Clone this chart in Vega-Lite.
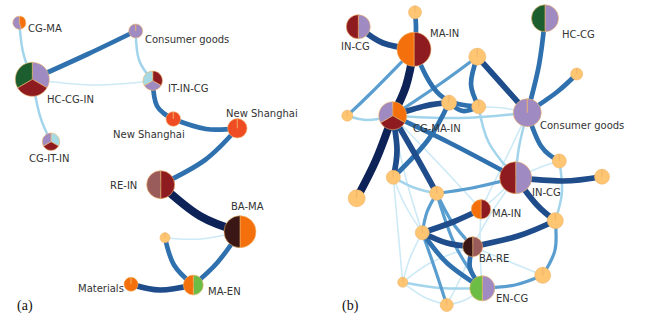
{
"$schema":"https://vega.github.io/schema/vega-lite/v6.json",
"width":645,"height":316,
"autosize":{"type":"fit","contains":"padding"},
"padding":0,
"background":"white",
"config":{"view":{"stroke":null}},
"datasets":{
"edges":[
{"e":"A1","o":0,"x":19.3,"y":22.7,"w":2},{"e":"A1","o":1,"x":23,"y":52,"w":2},{"e":"A1","o":2,"x":32.3,"y":79.3,"w":2},
{"e":"A3","o":0,"x":32.3,"y":79.3,"w":1},{"e":"A3","o":1,"x":92,"y":85,"w":1},{"e":"A3","o":2,"x":152.7,"y":80.7,"w":1},
{"e":"A4","o":0,"x":32.3,"y":79.3,"w":2},{"e":"A4","o":1,"x":40,"y":116,"w":2},{"e":"A4","o":2,"x":51,"y":141.7,"w":2},
{"e":"A5","o":0,"x":135.7,"y":31,"w":2},{"e":"A5","o":1,"x":139,"y":60,"w":2},{"e":"A5","o":2,"x":152.7,"y":80.7,"w":2},
{"e":"A10","o":0,"x":165,"y":237.7,"w":1},{"e":"A10","o":1,"x":200,"y":239,"w":1},{"e":"A10","o":2,"x":240,"y":231.7,"w":1},
{"e":"A2","o":0,"x":32.3,"y":79.3,"w":4},{"e":"A2","o":1,"x":88,"y":54,"w":4},{"e":"A2","o":2,"x":135.7,"y":31,"w":4},
{"e":"A6","o":0,"x":152.7,"y":80.7,"w":4},{"e":"A6","o":1,"x":157,"y":106,"w":4},{"e":"A6","o":2,"x":173.3,"y":119,"w":4},
{"e":"A7","o":0,"x":173.3,"y":119,"w":4},{"e":"A7","o":1,"x":206,"y":129,"w":4},{"e":"A7","o":2,"x":237.3,"y":128.3,"w":4},
{"e":"A8","o":0,"x":237.3,"y":128.3,"w":4},{"e":"A8","o":1,"x":205,"y":160,"w":4},{"e":"A8","o":2,"x":160.7,"y":184.7,"w":4},
{"e":"A11","o":0,"x":165,"y":237.7,"w":4},{"e":"A11","o":1,"x":174,"y":265,"w":4},{"e":"A11","o":2,"x":193.3,"y":285,"w":4},
{"e":"A12","o":0,"x":240,"y":231.7,"w":4},{"e":"A12","o":1,"x":217,"y":263,"w":4},{"e":"A12","o":2,"x":193.3,"y":285,"w":4},
{"e":"A13","o":0,"x":131,"y":284.3,"w":5},{"e":"A13","o":1,"x":160,"y":290,"w":5},{"e":"A13","o":2,"x":193.3,"y":285,"w":5},
{"e":"A9","o":0,"x":160.7,"y":184.7,"w":6},{"e":"A9","o":1,"x":200,"y":216,"w":6},{"e":"A9","o":2,"x":240,"y":231.7,"w":6},
{"e":"B15","o":0,"x":478.7,"y":106.7,"w":1},{"e":"B15","o":1,"x":503,"y":108,"w":1},{"e":"B15","o":2,"x":527.3,"y":112.7,"w":1},
{"e":"B21","o":0,"x":392.7,"y":115.7,"w":1},{"e":"B21","o":1,"x":440,"y":165,"w":1},{"e":"B21","o":2,"x":481,"y":209.3,"w":1},
{"e":"B22","o":0,"x":392.7,"y":115.7,"w":1},{"e":"B22","o":1,"x":405,"y":175,"w":1},{"e":"B22","o":2,"x":422.3,"y":232.7,"w":1},
{"e":"B27","o":0,"x":515.7,"y":177.7,"w":1},{"e":"B27","o":1,"x":541,"y":167,"w":1},{"e":"B27","o":2,"x":559.3,"y":161,"w":1},
{"e":"B31","o":0,"x":515.7,"y":177.7,"w":1},{"e":"B31","o":1,"x":498,"y":195,"w":1},{"e":"B31","o":2,"x":481,"y":209.3,"w":1},
{"e":"B32","o":0,"x":515.7,"y":177.7,"w":1},{"e":"B32","o":1,"x":490,"y":215,"w":1},{"e":"B32","o":2,"x":472.7,"y":246.7,"w":1},
{"e":"B40","o":0,"x":422.3,"y":232.7,"w":1},{"e":"B40","o":1,"x":410,"y":258,"w":1},{"e":"B40","o":2,"x":402.7,"y":282.3,"w":1},
{"e":"B43","o":0,"x":402.7,"y":282.3,"w":1},{"e":"B43","o":1,"x":432,"y":262,"w":1},{"e":"B43","o":2,"x":472.7,"y":246.7,"w":1},
{"e":"B44","o":0,"x":402.7,"y":282.3,"w":1},{"e":"B44","o":1,"x":424,"y":297,"w":1},{"e":"B44","o":2,"x":446.7,"y":305,"w":1},
{"e":"B46","o":0,"x":393.3,"y":177.3,"w":1},{"e":"B46","o":1,"x":405,"y":205,"w":1},{"e":"B46","o":2,"x":422.3,"y":232.7,"w":1},
{"e":"B47","o":0,"x":393.3,"y":177.3,"w":1},{"e":"B47","o":1,"x":398,"y":230,"w":1},{"e":"B47","o":2,"x":402.7,"y":282.3,"w":1},
{"e":"B50","o":0,"x":472.7,"y":246.7,"w":1},{"e":"B50","o":1,"x":510,"y":262,"w":1},{"e":"B50","o":2,"x":542.7,"y":275.3,"w":1},
{"e":"B51","o":0,"x":481,"y":209.3,"w":1},{"e":"B51","o":1,"x":480,"y":250,"w":1},{"e":"B51","o":2,"x":482.3,"y":288.3,"w":1},
{"e":"B52","o":0,"x":446.7,"y":305,"w":1},{"e":"B52","o":1,"x":462,"y":275,"w":1},{"e":"B52","o":2,"x":472.7,"y":246.7,"w":1},
{"e":"B53","o":0,"x":527.3,"y":112.7,"w":1},{"e":"B53","o":1,"x":510,"y":150,"w":1},{"e":"B53","o":2,"x":481,"y":209.3,"w":1},
{"e":"B54","o":0,"x":446.7,"y":305,"w":1},{"e":"B54","o":1,"x":465,"y":300,"w":1},{"e":"B54","o":2,"x":482.3,"y":288.3,"w":1},
{"e":"B11","o":0,"x":347.3,"y":115.7,"w":2},{"e":"B11","o":1,"x":368,"y":120,"w":2},{"e":"B11","o":2,"x":392.7,"y":115.7,"w":2},
{"e":"B13","o":0,"x":392.7,"y":115.7,"w":2},{"e":"B13","o":1,"x":460,"y":118,"w":2},{"e":"B13","o":2,"x":527.3,"y":112.7,"w":2},
{"e":"B23","o":0,"x":527.3,"y":112.7,"w":2},{"e":"B23","o":1,"x":519,"y":147,"w":2},{"e":"B23","o":2,"x":515.7,"y":177.7,"w":2},
{"e":"B25","o":0,"x":478.7,"y":106.7,"w":2},{"e":"B25","o":1,"x":489,"y":143,"w":2},{"e":"B25","o":2,"x":515.7,"y":177.7,"w":2},
{"e":"B29","o":0,"x":559.3,"y":161,"w":2},{"e":"B29","o":1,"x":562,"y":192,"w":2},{"e":"B29","o":2,"x":555.3,"y":220.7,"w":2},
{"e":"B42","o":0,"x":402.7,"y":282.3,"w":2},{"e":"B42","o":1,"x":440,"y":288,"w":2},{"e":"B42","o":2,"x":482.3,"y":288.3,"w":2},
{"e":"B45","o":0,"x":393.3,"y":177.3,"w":2},{"e":"B45","o":1,"x":415,"y":188,"w":2},{"e":"B45","o":2,"x":436.7,"y":193.3,"w":2},
{"e":"B4","o":0,"x":414,"y":49.3,"w":3},{"e":"B4","o":1,"x":372,"y":92,"w":3},{"e":"B4","o":2,"x":347.3,"y":115.7,"w":3},
{"e":"B6","o":0,"x":477.3,"y":56.7,"w":3},{"e":"B6","o":1,"x":440,"y":84,"w":3},{"e":"B6","o":2,"x":392.7,"y":115.7,"w":3},
{"e":"B30","o":0,"x":515.7,"y":177.7,"w":3},{"e":"B30","o":1,"x":472,"y":188,"w":3},{"e":"B30","o":2,"x":436.7,"y":193.3,"w":3},
{"e":"B38","o":0,"x":482.3,"y":288.3,"w":3},{"e":"B38","o":1,"x":515,"y":285,"w":3},{"e":"B38","o":2,"x":542.7,"y":275.3,"w":3},
{"e":"B39","o":0,"x":542.7,"y":275.3,"w":3},{"e":"B39","o":1,"x":555,"y":250,"w":3},{"e":"B39","o":2,"x":555.3,"y":220.7,"w":3},
{"e":"B41","o":0,"x":422.3,"y":232.7,"w":3},{"e":"B41","o":1,"x":436,"y":272,"w":3},{"e":"B41","o":2,"x":446.7,"y":305,"w":3},
{"e":"B48","o":0,"x":436.7,"y":193.3,"w":3},{"e":"B48","o":1,"x":452,"y":222,"w":3},{"e":"B48","o":2,"x":472.7,"y":246.7,"w":3},
{"e":"B49","o":0,"x":436.7,"y":193.3,"w":3},{"e":"B49","o":1,"x":455,"y":245,"w":3},{"e":"B49","o":2,"x":482.3,"y":288.3,"w":3},
{"e":"B55","o":0,"x":436.7,"y":193.3,"w":3},{"e":"B55","o":1,"x":427,"y":212,"w":3},{"e":"B55","o":2,"x":422.3,"y":232.7,"w":3},
{"e":"B2","o":0,"x":415,"y":12.3,"w":4},{"e":"B2","o":1,"x":416,"y":30,"w":4},{"e":"B2","o":2,"x":414,"y":49.3,"w":4},
{"e":"B5","o":0,"x":414,"y":49.3,"w":4},{"e":"B5","o":1,"x":440,"y":95,"w":4},{"e":"B5","o":2,"x":478.7,"y":106.7,"w":4},
{"e":"B7","o":0,"x":477.3,"y":56.7,"w":4},{"e":"B7","o":1,"x":471,"y":84,"w":4},{"e":"B7","o":2,"x":478.7,"y":106.7,"w":4},
{"e":"B9","o":0,"x":545,"y":18.3,"w":4},{"e":"B9","o":1,"x":539,"y":65,"w":4},{"e":"B9","o":2,"x":527.3,"y":112.7,"w":4},
{"e":"B10","o":0,"x":576.7,"y":74,"w":4},{"e":"B10","o":1,"x":557,"y":92,"w":4},{"e":"B10","o":2,"x":527.3,"y":112.7,"w":4},
{"e":"B14","o":0,"x":449,"y":102.7,"w":4},{"e":"B14","o":1,"x":463,"y":111,"w":4},{"e":"B14","o":2,"x":478.7,"y":106.7,"w":4},
{"e":"B16","o":0,"x":449,"y":102.7,"w":4},{"e":"B16","o":1,"x":428,"y":140,"w":4},{"e":"B16","o":2,"x":393.3,"y":177.3,"w":4},
{"e":"B20","o":0,"x":392.7,"y":115.7,"w":4},{"e":"B20","o":1,"x":450,"y":143,"w":4},{"e":"B20","o":2,"x":515.7,"y":177.7,"w":4},
{"e":"B24","o":0,"x":527.3,"y":112.7,"w":4},{"e":"B24","o":1,"x":541,"y":146,"w":4},{"e":"B24","o":2,"x":559.3,"y":161,"w":4},
{"e":"B36","o":0,"x":472.7,"y":246.7,"w":4},{"e":"B36","o":1,"x":470,"y":268,"w":4},{"e":"B36","o":2,"x":482.3,"y":288.3,"w":4},
{"e":"B37","o":0,"x":422.3,"y":232.7,"w":4},{"e":"B37","o":1,"x":447,"y":263,"w":4},{"e":"B37","o":2,"x":482.3,"y":288.3,"w":4},
{"e":"B1","o":0,"x":358.3,"y":26.7,"w":5},{"e":"B1","o":1,"x":383,"y":43,"w":5},{"e":"B1","o":2,"x":414,"y":49.3,"w":5},
{"e":"B8","o":0,"x":477.3,"y":56.7,"w":5},{"e":"B8","o":1,"x":500,"y":82,"w":5},{"e":"B8","o":2,"x":527.3,"y":112.7,"w":5},
{"e":"B12","o":0,"x":392.7,"y":115.7,"w":5},{"e":"B12","o":1,"x":425,"y":106,"w":5},{"e":"B12","o":2,"x":449,"y":102.7,"w":5},
{"e":"B17","o":0,"x":392.7,"y":115.7,"w":5},{"e":"B17","o":1,"x":397,"y":150,"w":5},{"e":"B17","o":2,"x":393.3,"y":177.3,"w":5},
{"e":"B19","o":0,"x":392.7,"y":115.7,"w":5},{"e":"B19","o":1,"x":416,"y":156,"w":5},{"e":"B19","o":2,"x":436.7,"y":193.3,"w":5},
{"e":"B26","o":0,"x":515.7,"y":177.7,"w":5},{"e":"B26","o":1,"x":563,"y":181,"w":5},{"e":"B26","o":2,"x":602,"y":176.7,"w":5},
{"e":"B28","o":0,"x":515.7,"y":177.7,"w":5},{"e":"B28","o":1,"x":537,"y":205,"w":5},{"e":"B28","o":2,"x":555.3,"y":220.7,"w":5},
{"e":"B33","o":0,"x":481,"y":209.3,"w":5},{"e":"B33","o":1,"x":453,"y":222,"w":5},{"e":"B33","o":2,"x":422.3,"y":232.7,"w":5},
{"e":"B34","o":0,"x":422.3,"y":232.7,"w":5},{"e":"B34","o":1,"x":447,"y":243,"w":5},{"e":"B34","o":2,"x":472.7,"y":246.7,"w":5},
{"e":"B35","o":0,"x":472.7,"y":246.7,"w":5},{"e":"B35","o":1,"x":518,"y":236,"w":5},{"e":"B35","o":2,"x":555.3,"y":220.7,"w":5},
{"e":"B3","o":0,"x":414,"y":49.3,"w":6},{"e":"B3","o":1,"x":406,"y":86,"w":6},{"e":"B3","o":2,"x":392.7,"y":115.7,"w":6},
{"e":"B18","o":0,"x":392.7,"y":115.7,"w":6},{"e":"B18","o":1,"x":376,"y":160,"w":6},{"e":"B18","o":2,"x":356.7,"y":198.3,"w":6}
],
"nodes":[
{"n":"a1","x":19.3,"y":22.7,"s":6.5,"c":"MA","k":1,"v":45},{"n":"a1","x":19.3,"y":22.7,"s":6.5,"c":"CG","k":2,"v":55},
{"n":"a2","x":135.7,"y":31,"s":7,"c":"CG","k":1,"v":1},
{"n":"a3","x":32.3,"y":79.3,"s":17,"c":"CG","k":1,"v":1},{"n":"a3","x":32.3,"y":79.3,"s":17,"c":"IN","k":2,"v":1},{"n":"a3","x":32.3,"y":79.3,"s":17,"c":"HC","k":3,"v":1},
{"n":"a4","x":152.7,"y":80.7,"s":9.7,"c":"IN","k":1,"v":1},{"n":"a4","x":152.7,"y":80.7,"s":9.7,"c":"CG","k":2,"v":1},{"n":"a4","x":152.7,"y":80.7,"s":9.7,"c":"IT","k":3,"v":1},
{"n":"a5","x":51,"y":141.7,"s":8.7,"c":"IT","k":1,"v":1},{"n":"a5","x":51,"y":141.7,"s":8.7,"c":"IN","k":2,"v":1},{"n":"a5","x":51,"y":141.7,"s":8.7,"c":"CG","k":3,"v":1},
{"n":"a6","x":173.3,"y":119,"s":7.3,"c":"NS","k":1,"v":1},
{"n":"a7","x":237.3,"y":128.3,"s":9.7,"c":"NS","k":1,"v":1},
{"n":"a8","x":160.7,"y":184.7,"s":14,"c":"IN","k":1,"v":1},{"n":"a8","x":160.7,"y":184.7,"s":14,"c":"RE","k":2,"v":1},
{"n":"a9","x":240,"y":231.7,"s":16,"c":"MA","k":1,"v":1},{"n":"a9","x":240,"y":231.7,"s":16,"c":"BA","k":2,"v":1},
{"n":"a10","x":165,"y":237.7,"s":5,"c":"Y","k":1,"v":1},
{"n":"a11","x":131,"y":284.3,"s":7,"c":"MA","k":1,"v":1},
{"n":"a12","x":193.3,"y":285,"s":10,"c":"EN","k":1,"v":1},{"n":"a12","x":193.3,"y":285,"s":10,"c":"MA","k":2,"v":1},
{"n":"b1","x":358.3,"y":26.7,"s":12,"c":"CG","k":1,"v":1},{"n":"b1","x":358.3,"y":26.7,"s":12,"c":"IN","k":2,"v":1},
{"n":"b2","x":415,"y":12.3,"s":6.5,"c":"Y","k":1,"v":1},
{"n":"b3","x":414,"y":49.3,"s":17,"c":"IN","k":1,"v":1},{"n":"b3","x":414,"y":49.3,"s":17,"c":"MA","k":2,"v":1},
{"n":"b4","x":545,"y":18.3,"s":13.5,"c":"CG","k":1,"v":1},{"n":"b4","x":545,"y":18.3,"s":13.5,"c":"HC","k":2,"v":1},
{"n":"b5","x":477.3,"y":56.7,"s":8.5,"c":"Y","k":1,"v":1},
{"n":"b6","x":576.7,"y":74,"s":6,"c":"Y","k":1,"v":1},
{"n":"b7","x":347.3,"y":115.7,"s":5.5,"c":"Y","k":1,"v":1},
{"n":"b8","x":392.7,"y":115.7,"s":14,"c":"MA","k":1,"v":1},{"n":"b8","x":392.7,"y":115.7,"s":14,"c":"IN","k":2,"v":1},{"n":"b8","x":392.7,"y":115.7,"s":14,"c":"CG","k":3,"v":1},
{"n":"b9","x":449,"y":102.7,"s":7.5,"c":"Y","k":1,"v":1},
{"n":"b10","x":478.7,"y":106.7,"s":7,"c":"Y","k":1,"v":1},
{"n":"b11","x":527.3,"y":112.7,"s":14,"c":"CG","k":1,"v":1},
{"n":"b12","x":559.3,"y":161,"s":7,"c":"Y","k":1,"v":1},
{"n":"b13","x":515.7,"y":177.7,"s":16,"c":"CG","k":1,"v":1},{"n":"b13","x":515.7,"y":177.7,"s":16,"c":"IN","k":2,"v":1},
{"n":"b14","x":602,"y":176.7,"s":7.5,"c":"Y","k":1,"v":1},
{"n":"b15","x":393.3,"y":177.3,"s":7,"c":"Y","k":1,"v":1},
{"n":"b16","x":356.7,"y":198.3,"s":8.5,"c":"Y","k":1,"v":1},
{"n":"b17","x":436.7,"y":193.3,"s":7,"c":"Y","k":1,"v":1},
{"n":"b18","x":481,"y":209.3,"s":9.7,"c":"IN","k":1,"v":1},{"n":"b18","x":481,"y":209.3,"s":9.7,"c":"MA","k":2,"v":1},
{"n":"b19","x":555.3,"y":220.7,"s":8,"c":"Y","k":1,"v":1},
{"n":"b20","x":422.3,"y":232.7,"s":7,"c":"Y","k":1,"v":1},
{"n":"b21","x":472.7,"y":246.7,"s":10,"c":"RE","k":1,"v":1},{"n":"b21","x":472.7,"y":246.7,"s":10,"c":"BA","k":2,"v":1},
{"n":"b22","x":542.7,"y":275.3,"s":8,"c":"Y","k":1,"v":1},
{"n":"b23","x":402.7,"y":282.3,"s":5,"c":"Y","k":1,"v":1},
{"n":"b24","x":482.3,"y":288.3,"s":12.5,"c":"CG","k":1,"v":1},{"n":"b24","x":482.3,"y":288.3,"s":12.5,"c":"EN","k":2,"v":1},
{"n":"b25","x":446.7,"y":305,"s":6.5,"c":"Y","k":1,"v":1}
],
"labels":[
{"t":"CG-MA","x":28,"y":29},
{"t":"Consumer goods","x":145,"y":39.5},
{"t":"HC-CG-IN","x":47,"y":100},
{"t":"IT-IN-CG","x":168,"y":89},
{"t":"CG-IT-IN","x":29,"y":158.5},
{"t":"New Shanghai","x":113,"y":134.5},
{"t":"New Shanghai","x":226,"y":113.5},
{"t":"RE-IN","x":110,"y":186},
{"t":"BA-MA","x":231,"y":207},
{"t":"Materials","x":78,"y":289},
{"t":"MA-EN","x":208,"y":292},
{"t":"IN-CG","x":341,"y":47},
{"t":"MA-IN","x":430,"y":33.5},
{"t":"HC-CG","x":562,"y":34.5},
{"t":"CG-MA-IN","x":413,"y":129},
{"t":"Consumer goods","x":540,"y":126},
{"t":"IN-CG","x":532,"y":193},
{"t":"MA-IN","x":492,"y":214},
{"t":"BA-RE","x":479,"y":259},
{"t":"EN-CG","x":496,"y":299}
],
"panels":[{"t":"(a)","x":17,"y":306},{"t":"(b)","x":342,"y":306}]
},
"encoding":{
"x":{"field":"x","type":"quantitative","scale":{"domain":[0,645],"nice":false,"zero":false},"axis":null},
"y":{"field":"y","type":"quantitative","scale":{"domain":[0,316],"nice":false,"zero":false,"reverse":true},"axis":null}
},
"layer":[
{"data":{"name":"edges"},
 "mark":{"type":"line","interpolate":"natural","strokeCap":"round","strokeJoin":"round"},
 "encoding":{
  "detail":{"field":"e","type":"nominal"},
  "order":{"field":"o","type":"quantitative"},
  "stroke":{"field":"w","type":"quantitative","legend":null,"scale":{"type":"linear","domain":[1,2,3,4,5,6],"range":["#cdeaf6","#a2d4ec","#5a9ed0","#2f70ae","#1f4c8a","#0d2257"]}},
  "strokeWidth":{"field":"w","type":"quantitative","legend":null,"scale":{"type":"linear","domain":[1,2,3,4,5,6],"range":[1.6,2.5,3.2,4.7,5.7,8]}}
 }},
{"data":{"name":"nodes"},
 "transform":[{"stack":"v","groupby":["n"],"sort":[{"field":"k","order":"ascending"}],"offset":"normalize","as":["t0","t1"]}],
 "mark":{"type":"arc","stroke":"#f0b46a","strokeWidth":0.6},
 "encoding":{
  "theta":{"field":"t0","type":"quantitative","stack":null,"scale":{"domain":[0,1],"range":[0,6.283185307]}},
  "theta2":{"field":"t1"},
  "radius":{"field":"s","type":"quantitative","scale":{"type":"linear","domain":[0,20],"range":[0,20],"zero":true}},
  "fill":{"field":"c","type":"nominal","legend":null,"scale":{"domain":["CG","MA","IN","HC","IT","RE","BA","EN","NS","Y"],"range":["#9f8bc2","#f4700c","#8e1b20","#1c5e2d","#a5dae5","#9a5b5b","#3a1714","#6cbd45","#ef4c23","#fec673"]}}
 }},
{"data":{"name":"labels"},
 "mark":{"type":"text","align":"left","baseline":"middle","font":"DejaVu Sans","fontSize":10,"color":"#333333"},
 "encoding":{"text":{"field":"t","type":"nominal"}}},
{"data":{"name":"panels"},
 "mark":{"type":"text","align":"left","baseline":"middle","font":"Liberation Serif","fontSize":14,"color":"#111111"},
 "encoding":{"text":{"field":"t","type":"nominal"}}}
]
}
